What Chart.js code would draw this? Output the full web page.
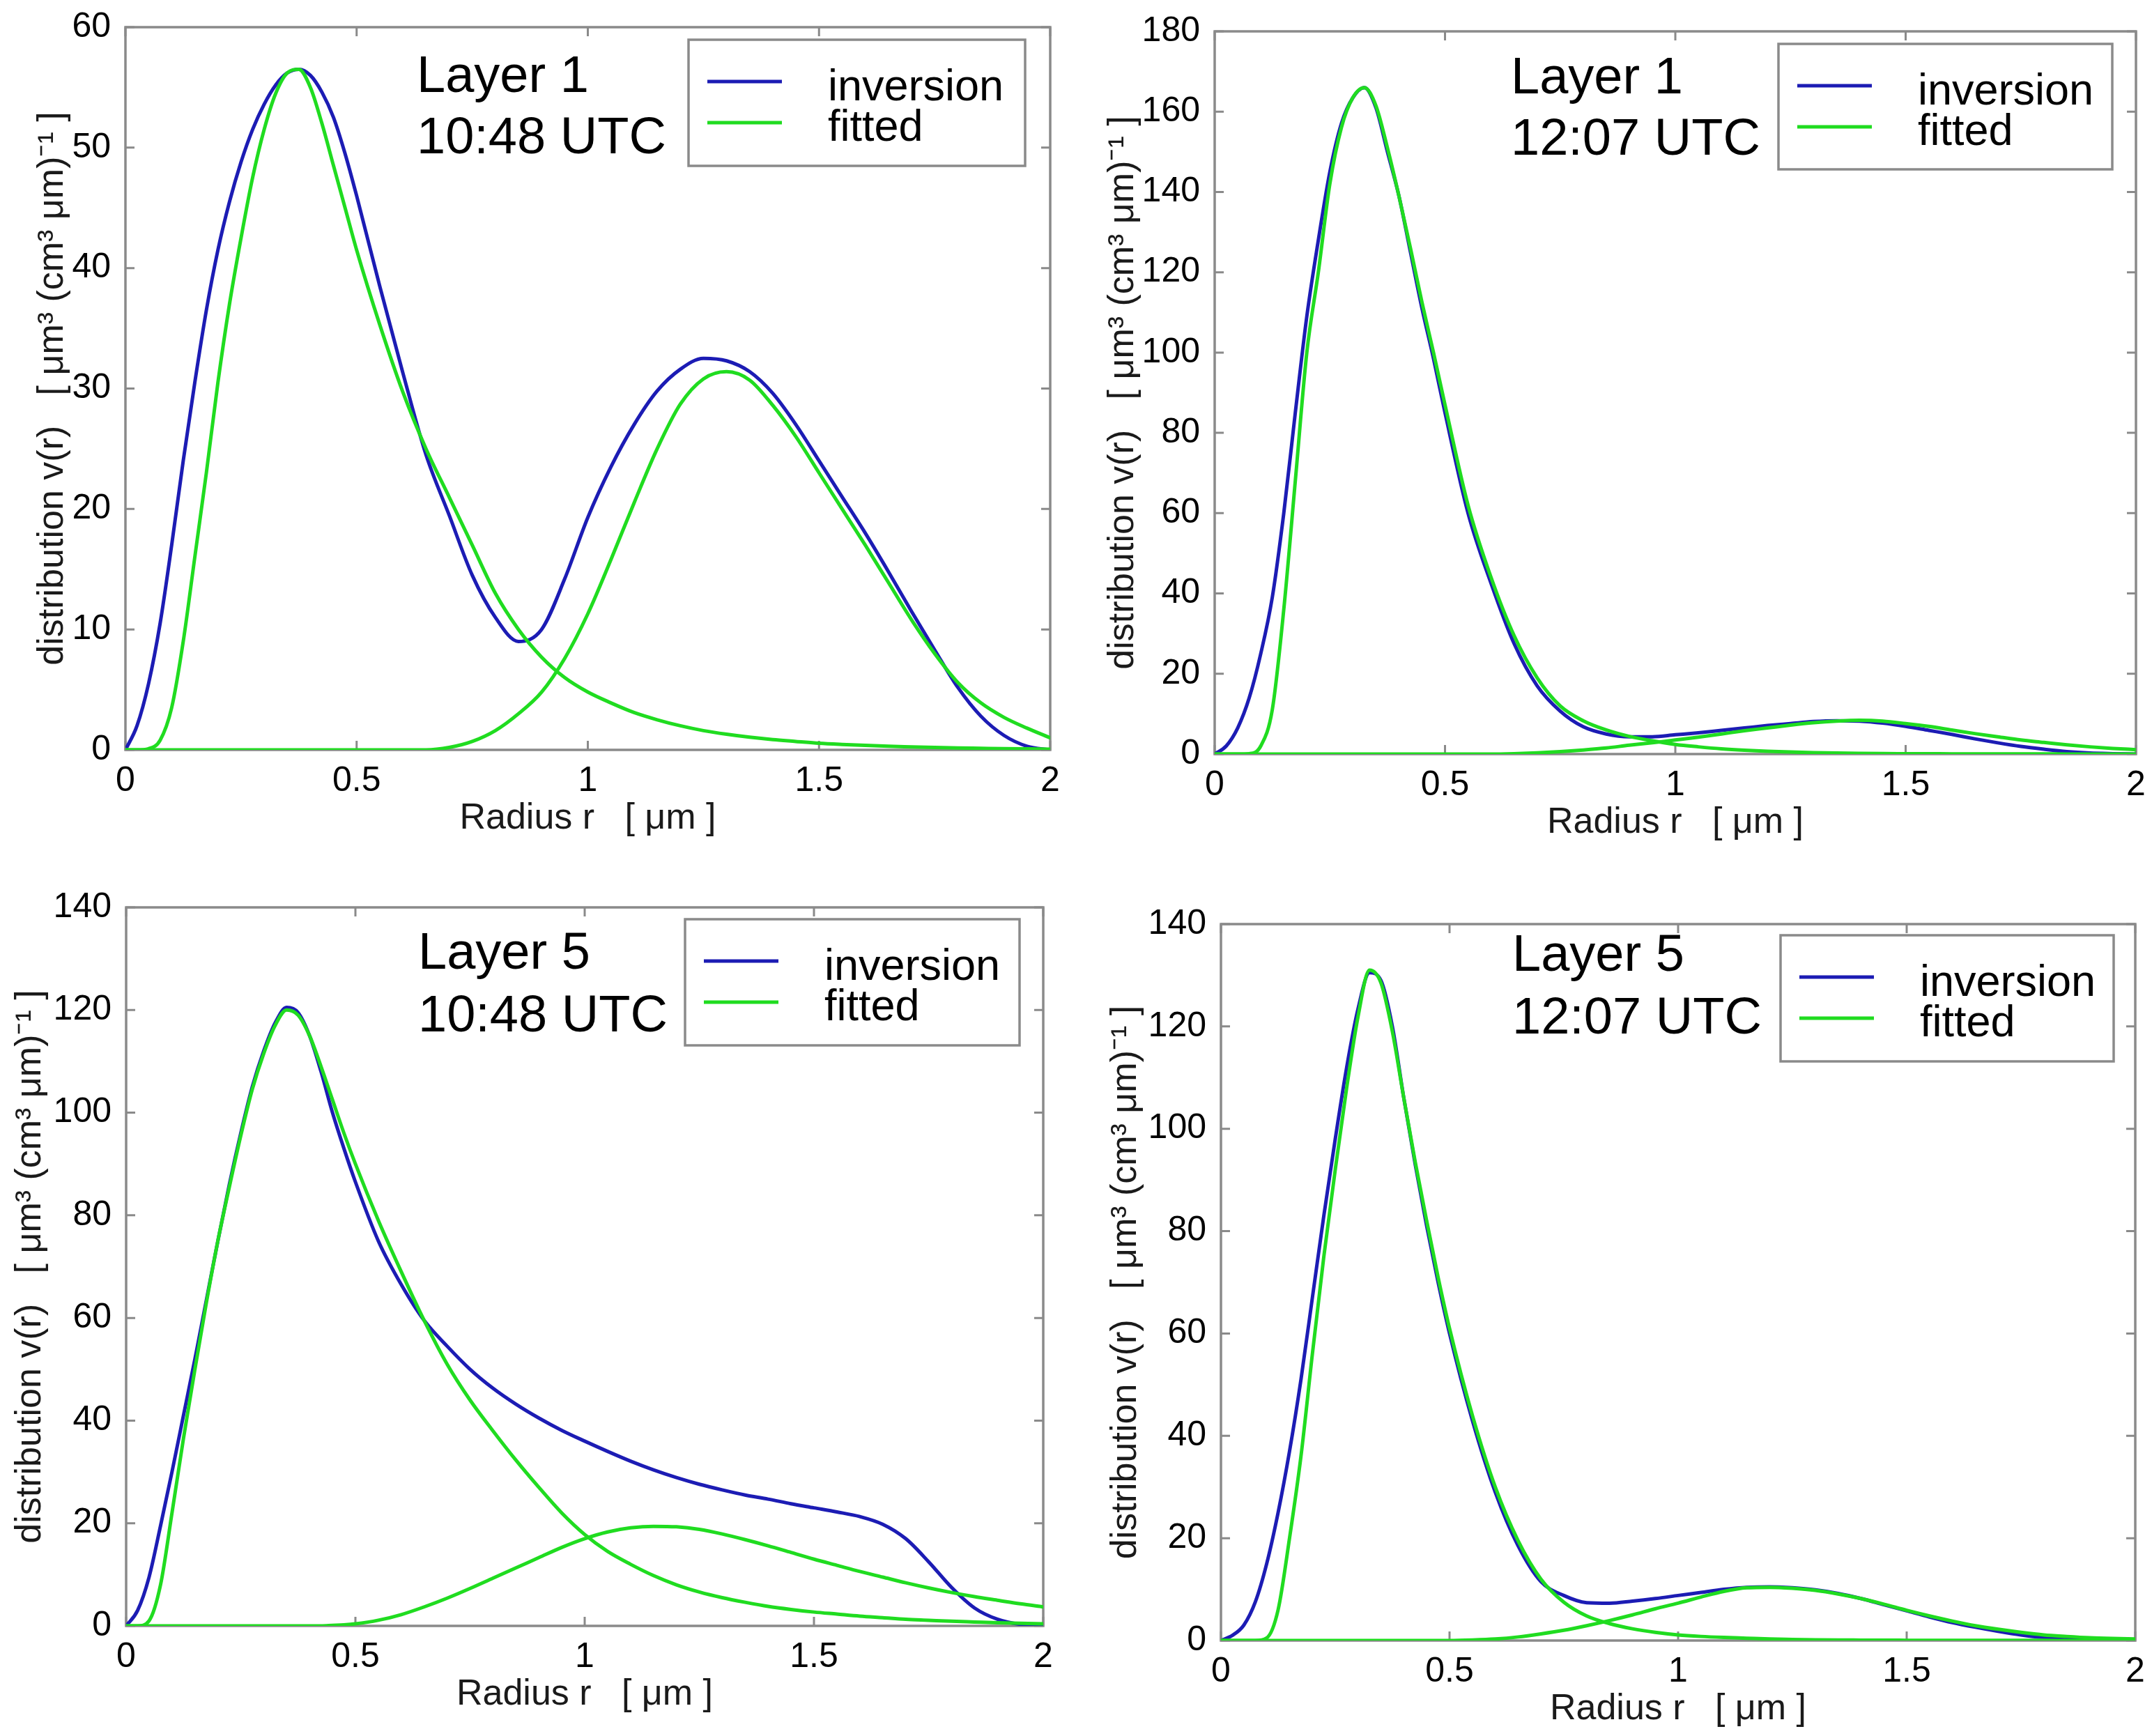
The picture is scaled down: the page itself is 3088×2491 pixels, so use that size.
<!DOCTYPE html>
<html>
<head>
<meta charset="utf-8">
<script src="https://cdn.jsdelivr.net/npm/chart.js@4.4.1/dist/chart.umd.min.js"></script>
<style>
  html, body { margin: 0; padding: 0; background: #ffffff; }
  body { width: 3088px; height: 2491px; position: relative; overflow: hidden; }
  canvas { position: absolute; }
</style>
</head>
<body>
<canvas id="c1"></canvas>
<canvas id="c2"></canvas>
<canvas id="c3"></canvas>
<canvas id="c4"></canvas>
<script>
// ---------------- DATA ----------------
const radius = [0,0.025,0.05,0.075,0.1,0.125,0.15,0.175,0.2,0.225,0.25,0.275,0.3,0.325,0.35,0.375,0.4,0.425,0.45,0.475,0.5,
  0.55,0.6,0.65,0.7,0.75,0.8,0.85,0.9,0.95,1,1.05,1.1,1.15,1.2,1.25,1.3,1.35,1.4,1.45,1.5,1.55,1.6,1.65,1.7,1.75,1.8,1.85,1.9,1.95,2];

const xTickValues = [0, 0.5, 1, 1.5, 2];
const yTicksL1a = [0, 10, 20, 30, 40, 50, 60];
const yTicksL1b = [0, 20, 40, 60, 80, 100, 120, 140, 160, 180];
const yTicksL5  = [0, 20, 40, 60, 80, 100, 120, 140];

const seriesLabels = ['inversion', 'fitted'];
const panelTitles = [['Layer 1', '10:48 UTC'], ['Layer 1', '12:07 UTC'], ['Layer 5', '10:48 UTC'], ['Layer 5', '12:07 UTC']];
const xTitle = 'Radius r   [ \u03bcm ]';
const yTitle = 'distribution v(r)   [ \u03bcm\u00b3 (cm\u00b3 \u03bcm)\u207b\u00b9 ]';

// Layer 1, 10:48 UTC
const invL1a = [0,2,5.5,10.5,17,24,30.5,36.5,41.5,45.5,48.8,51.5,53.6,55.2,56.2,56.5,56,54.6,52.5,49.5,46,
  38.5,31.3,24.5,19.5,14.5,11,9,10,14.2,19.3,23.5,27,29.8,31.6,32.5,32.3,31.4,29.6,27,24,21,18,14.8,11.5,8.3,5.2,2.8,1.2,0.3,0];
const fitAL1a = [0,0,0.1,0.8,3.5,9,16,23,30.5,37,42.5,47.5,51.5,54.5,56.2,56.5,55,52,48.5,45,41.5,
  35.3,29.7,25,21,17,13,10,7.7,6,4.8,3.9,3.1,2.5,2,1.6,1.3,1.05,0.85,0.7,0.55,0.45,0.37,0.3,0.25,0.2,0.16,0.13,0.1,0.08,0.06];
const fitBL1a = [0,0,0,0,0,0,0,0,0,0,0,0,0,0,0,0,0,0,0,0,0,
  0,0,0,0.2,0.7,1.6,3,4.8,7.6,11.3,15.8,20.5,25,28.7,30.8,31.4,30.7,28.6,26,23,20,17,13.9,10.8,8,5.6,3.9,2.7,1.8,1];

// Layer 1, 12:07 UTC
const invL1b = [0,2,6.5,14,25,39,60,85,109,128,145,157,163.5,166,161,150,139,125,111,98.5,85,
  60,42.5,27.5,17,10.7,6.8,5,4.3,4.3,4.8,5.3,5.9,6.5,7.1,7.6,8.1,8.3,8.2,7.7,6.9,5.9,4.9,3.8,2.8,1.9,1.2,0.6,0.25,0.1,0];
const fitAL1b = [0,0,0,0.1,2,11,36,68,100,120,142,156,163.5,166,161.5,151,139,126,112.5,100,87,
  62,44,29.5,19,12,8.3,6,4.4,3.3,2.4,1.8,1.3,0.95,0.7,0.5,0.35,0.25,0.18,0.13,0.1,0.08,0.06,0.05,0.04,0.03,0.03,0.02,0.02,0.01,0.01];
const fitBL1b = [0,0,0,0,0,0,0,0,0,0,0,0,0,0,0,0,0,0,0,0,0,
  0,0,0.1,0.3,0.6,1,1.5,2.2,2.8,3.5,4.2,5,5.8,6.5,7.2,7.8,8.2,8.4,8.2,7.6,6.9,6,5.1,4.3,3.5,2.9,2.3,1.8,1.4,1.1];

// Layer 5, 10:48 UTC
const invL5a = [0,3,9.5,19.5,30,41,52,63.5,75,86,96,105,112,117.5,120.5,119.5,115,108,100,93,86.5,
  75,66.5,59.5,54.5,50,46.3,43.2,40.5,38.1,36,34,32.1,30.4,28.9,27.6,26.5,25.5,24.7,23.8,23,22.2,21.3,19.8,17,12.5,7.5,3.5,1.3,0.3,0];
const fitAL5a = [0,0,1,8,22,36.5,50,63,75,85.5,95.5,104.5,111.5,117,120,119,115,109,102.5,96,90,
  79,69,59.5,51,44,38,32.3,27,22,17.8,14.5,12,9.8,8,6.6,5.5,4.6,3.8,3.2,2.7,2.3,1.9,1.6,1.3,1.1,0.9,0.75,0.6,0.5,0.4];
const fitBL5a = [0,0,0,0,0,0,0,0,0,0,0,0,0,0,0,0,0,0,0.1,0.2,0.4,
  1.1,2.2,3.7,5.4,7.3,9.3,11.3,13.3,15.3,17,18.3,19.1,19.4,19.3,18.8,17.9,16.8,15.6,14.3,13,11.8,10.6,9.5,8.4,7.4,6.5,5.7,5,4.3,3.7];

// Layer 5, 12:07 UTC
const invL5b = [0,1,3,7.5,15,25,37,51,67,83,98,112,123.5,130.5,129,120,106,93,81,70,60,
  43,29,18.5,11.5,8.8,7.4,7.3,7.7,8.2,8.8,9.4,10,10.4,10.5,10.3,9.9,9.2,8.2,7,5.8,4.6,3.5,2.6,1.8,1.1,0.6,0.35,0.2,0.15,0.1];
const fitAL5b = [0,0,0,0,0.5,6,20,36,56,75,92,108,122,131,128.5,119,106,93.5,82,71,61,
  44,30,19.5,12,7.5,4.8,3.3,2.3,1.6,1.1,0.8,0.6,0.45,0.3,0.22,0.15,0.1,0.08,0.06,0.05,0.04,0.03,0.03,0.02,0.02,0.02,0.01,0.01,0.01,0.01];
const fitBL5b = [0,0,0,0,0,0,0,0,0,0,0,0,0,0,0,0,0,0,0,0,0,
  0.1,0.3,0.7,1.3,2,2.9,3.9,5,6.2,7.3,8.5,9.6,10.3,10.4,10.2,9.8,9.1,8.2,7.1,5.9,4.8,3.8,2.9,2.2,1.6,1.1,0.8,0.55,0.4,0.3];

// ---------------- LAYOUT / STYLE ----------------
const BLUE = '#1c1cb4';
const GREEN = '#20dc20';
const FRAME = '#8a8a8a';
const Y_AXIS_W = 180, PAD_TOP = 30, PAD_RIGHT = 30, X_AXIS_H = 150;

const panels = [
  { id: 'c1', inv: invL1a, fa: fitAL1a, fb: fitBL1a, yTicks: yTicksL1a, yMax: 60, title: panelTitles[0],
    plot: { l: 180, t: 31, r: 1507, b: 1076 }, yTitlePad: 44,
    legend: { l: 988, t: 57, w: 483, h: 181 }, text: { x: 598, y1: 132, y2: 220 } },
  { id: 'c2', inv: invL1b, fa: fitAL1b, fb: fitBL1b, yTicks: yTicksL1b, yMax: 180, title: panelTitles[1],
    plot: { l: 1743, t: 37, r: 3065, b: 1082 }, yTitlePad: 17,
    legend: { l: 2552, t: 63, w: 479, h: 180 }, text: { x: 2168, y1: 134, y2: 222 } },
  { id: 'c3', inv: invL5a, fa: fitAL5a, fb: fitBL5a, yTicks: yTicksL5, yMax: 140, title: panelTitles[2],
    plot: { l: 181, t: 1294, r: 1497, b: 2333 }, yTitlePad: 11,
    legend: { l: 983, t: 1319, w: 480, h: 181 }, text: { x: 600, y1: 1390, y2: 1480 } },
  { id: 'c4', inv: invL5b, fa: fitAL5b, fb: fitBL5b, yTicks: yTicksL5, yMax: 140, title: panelTitles[3],
    plot: { l: 1752, t: 1318, r: 3064, b: 2354 }, yTitlePad: 12,
    legend: { l: 2555, t: 1342, w: 478, h: 181 }, text: { x: 2170, y1: 1393, y2: 1483 } }
];

const tickFont = { family: "'Liberation Sans', Arial, Helvetica, sans-serif", size: 50, lineHeight: 1 };
const titleFont = { family: "'Liberation Sans', Arial, Helvetica, sans-serif", size: 52, lineHeight: 1.2 };

const framePlugin = {
  id: 'frame',
  beforeDatasetsDraw(chart) {
    const { ctx, chartArea: { left, top, right, bottom }, scales: { x, y } } = chart;
    ctx.save();
    ctx.strokeStyle = FRAME;
    ctx.lineWidth = 3.5;
    ctx.strokeRect(left, top, right - left, bottom - top);
    ctx.lineWidth = 3;
    const L = 13;
    ctx.beginPath();
    x.ticks.forEach(t => {
      const px = x.getPixelForValue(t.value);
      ctx.moveTo(px, bottom); ctx.lineTo(px, bottom - L);
      ctx.moveTo(px, top); ctx.lineTo(px, top + L);
    });
    y.ticks.forEach(t => {
      const py = y.getPixelForValue(t.value);
      ctx.moveTo(left, py); ctx.lineTo(left + L, py);
      ctx.moveTo(right, py); ctx.lineTo(right - L, py);
    });
    ctx.stroke();
    ctx.restore();
  },
  afterDatasetsDraw(chart, args, opts) {
    const p = opts.panel;
    const ox = p.plot.l - Y_AXIS_W, oy = p.plot.t - PAD_TOP;
    const { ctx } = chart;
    ctx.save();
    const lx = p.legend.l - ox, ly = p.legend.t - oy;
    ctx.fillStyle = '#ffffff';
    ctx.fillRect(lx, ly, p.legend.w, p.legend.h);
    ctx.strokeStyle = FRAME;
    ctx.lineWidth = 3.5;
    ctx.strokeRect(lx, ly, p.legend.w, p.legend.h);
    const colors = [BLUE, GREEN];
    const lineY = [60, 119], textY = [87, 145];
    ctx.font = "63px 'Liberation Sans', Arial, Helvetica, sans-serif";
    ctx.textBaseline = 'alphabetic';
    ctx.textAlign = 'left';
    seriesLabels.forEach((lab, i) => {
      ctx.strokeStyle = colors[i];
      ctx.lineWidth = 5;
      ctx.beginPath();
      ctx.moveTo(lx + 27, ly + lineY[i]);
      ctx.lineTo(lx + 134, ly + lineY[i]);
      ctx.stroke();
      ctx.fillStyle = '#000000';
      ctx.fillText(lab, lx + 200, ly + textY[i]);
    });
    ctx.font = "74px 'Liberation Sans', Arial, Helvetica, sans-serif";
    ctx.fillStyle = '#000000';
    ctx.fillText(p.title[0], p.text.x - ox, p.text.y1 - oy);
    ctx.fillText(p.title[1], p.text.x - ox, p.text.y2 - oy);
    ctx.restore();
  }
};

function makeChart(p) {
  const canvas = document.getElementById(p.id);
  const cw = Y_AXIS_W + (p.plot.r - p.plot.l) + PAD_RIGHT;
  const ch = PAD_TOP + (p.plot.b - p.plot.t) + X_AXIS_H;
  canvas.width = cw; canvas.height = ch;
  canvas.style.width = cw + 'px'; canvas.style.height = ch + 'px';
  canvas.style.left = (p.plot.l - Y_AXIS_W) + 'px';
  canvas.style.top = (p.plot.t - PAD_TOP) + 'px';
  const pts = arr => radius.map((r, i) => ({ x: r, y: arr[i] }));
  new Chart(canvas, {
    type: 'line',
    data: {
      datasets: [
        { label: seriesLabels[0], data: pts(p.inv), borderColor: BLUE, order: 1 },
        { label: seriesLabels[1], data: pts(p.fa), borderColor: GREEN, order: 0 },
        { label: seriesLabels[1], data: pts(p.fb), borderColor: GREEN, order: 0 }
      ]
    },
    options: {
      responsive: false,
      animation: false,
      devicePixelRatio: 1,
      layout: { padding: { top: PAD_TOP, right: PAD_RIGHT, left: 0, bottom: 0 } },
      elements: {
        point: { radius: 0, hoverRadius: 0 },
        line: { borderWidth: 5, cubicInterpolationMode: 'monotone', fill: false, borderCapStyle: 'round', borderJoinStyle: 'round' }
      },
      plugins: { legend: { display: false }, tooltip: { enabled: false }, frame: { panel: p } },
      events: [],
      scales: {
        x: {
          type: 'linear', min: 0, max: 2,
          afterBuildTicks: s => { s.ticks = xTickValues.map(v => ({ value: v })); },
          afterFit: s => { s.height = X_AXIS_H; },
          grid: { display: false }, border: { display: false },
          ticks: { font: tickFont, color: '#000000', padding: 12, maxRotation: 0, autoSkip: false,
                   callback: v => String(v) },
          title: { display: true, text: xTitle, font: titleFont, color: '#1a1a1a', padding: { top: 0, bottom: 20 } }
        },
        y: {
          type: 'linear', min: 0, max: p.yMax,
          afterBuildTicks: s => { s.ticks = p.yTicks.map(v => ({ value: v })); },
          afterFit: s => { s.width = Y_AXIS_W; },
          grid: { display: false }, border: { display: false },
          ticks: { font: tickFont, color: '#000000', padding: 13, autoSkip: false, callback: v => String(v) },
          title: { display: true, text: yTitle, font: titleFont, color: '#1a1a1a', padding: { top: p.yTitlePad, bottom: 0 } }
        }
      }
    },
    plugins: [framePlugin]
  });
}

panels.forEach(makeChart);
</script>
</body>
</html>
